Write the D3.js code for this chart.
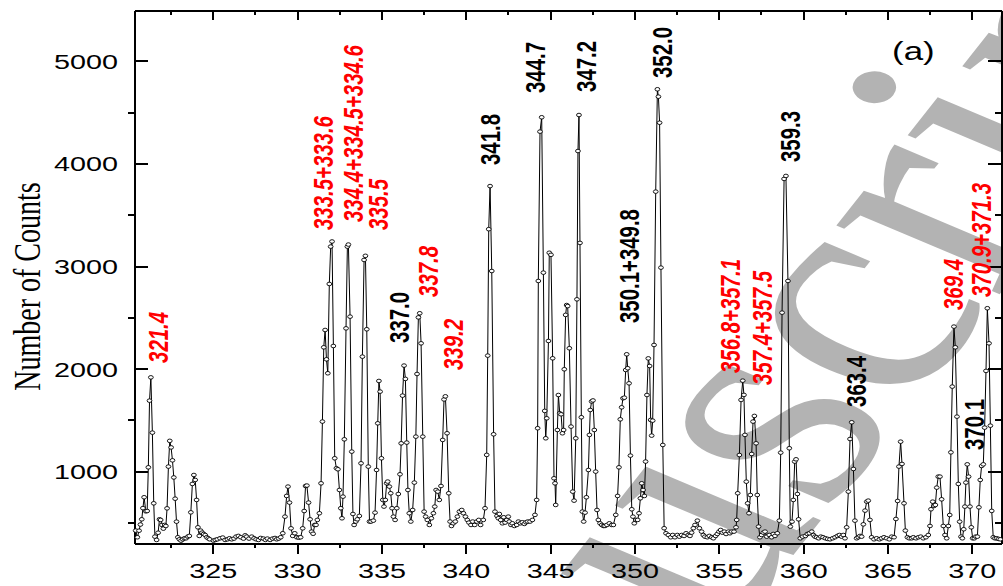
<!DOCTYPE html>
<html lang="en">

<head>
  <meta charset="utf-8">
  <title>Number of Counts spectrum</title>
  <style>
    body {
      margin: 0;
      background: #fff;
      overflow: hidden;
    }

    .axis path,
    .axis line {
      fill: none;
      stroke: #000;
      stroke-width: 2;
      shape-rendering: crispEdges;
    }

    .axis text {
      fill: #000;
    }

    .peak-label {
      font-family: "Liberation Sans", Arial, sans-serif;
      font-weight: bold;
    }
  </style>
</head>

<body>
  <div id="chart"></div>

<script src="https://d3js.org/d3.v7.min.js"></script>

<script>
  // spectrum: wavelength and counts
  const wavelength = [
    320.43, 320.53, 320.63, 320.71, 320.79, 320.86, 320.93, 321.03, 321.11, 321.18,
    321.25, 321.33, 321.42, 321.50, 321.57, 321.67, 321.76, 321.84, 321.91, 321.99,
    322.07, 322.15, 322.22, 322.29, 322.37, 322.45, 322.53, 322.61, 322.69, 322.77,
    322.85, 322.93, 323.02, 323.12, 323.22, 323.32, 323.42, 323.52, 323.61, 323.70,
    323.79, 323.88, 323.96, 324.04, 324.12, 324.20, 324.28, 324.37, 324.46, 324.55,
    324.64, 324.73, 324.82, 325.04, 325.15, 325.27, 325.43, 325.59, 325.73, 325.87,
    325.99, 326.12, 326.26, 326.38, 326.52, 326.66, 326.82, 326.92, 327.01, 327.15,
    327.31, 327.45, 327.57, 327.71, 327.84, 328.00, 328.12, 328.24, 328.40, 328.55,
    328.69, 328.79, 328.91, 329.03, 329.15, 329.28, 329.38, 329.46, 329.55, 329.64,
    329.74, 329.86, 329.98, 330.10, 330.21, 330.33, 330.42, 330.50, 330.58, 330.68,
    330.77, 330.86, 330.95, 331.04, 331.12, 331.20, 331.32, 331.42, 331.50, 331.58,
    331.66, 331.74, 331.82, 331.91, 331.99, 332.07, 332.15, 332.23, 332.33, 332.42,
    332.51, 332.59, 332.66, 332.72, 332.80, 332.90, 332.98, 333.04, 333.14, 333.24,
    333.31, 333.38, 333.48, 333.57, 333.69, 333.79, 333.87, 333.97, 334.05, 334.13,
    334.22, 334.29, 334.38, 334.52, 334.62, 334.71, 334.78, 334.85, 334.92, 335.00,
    335.08, 335.15, 335.23, 335.31, 335.37, 335.47, 335.55, 335.63, 335.71, 335.81,
    335.91, 336.00, 336.10, 336.17, 336.25, 336.34, 336.42, 336.50, 336.57, 336.65,
    336.74, 336.85, 336.95, 337.04, 337.11, 337.19, 337.27, 337.35, 337.45, 337.53,
    337.62, 337.72, 337.84, 337.96, 338.08, 338.16, 338.24, 338.34, 338.43, 338.53,
    338.63, 338.71, 338.79, 338.89, 338.99, 339.07, 339.15, 339.26, 339.38, 339.50,
    339.62, 339.76, 339.86, 339.98, 340.09, 340.19, 340.31, 340.41, 340.53, 340.65,
    340.77, 340.88, 341.04, 341.14, 341.24, 341.30, 341.36, 341.44, 341.54, 341.65,
    341.73, 341.85, 341.93, 341.99, 342.07, 342.17, 342.25, 342.33, 342.43, 342.52,
    342.58, 342.68, 342.76, 342.88, 343.02, 343.12, 343.24, 343.35, 343.47, 343.57,
    343.67, 343.81, 343.95, 344.10, 344.20, 344.26, 344.30, 344.40, 344.50, 344.60,
    344.68, 344.74, 344.80, 344.90, 344.95, 345.05, 345.15, 345.23, 345.29, 345.33,
    345.43, 345.49, 345.57, 345.65, 345.73, 345.80, 345.84, 345.92, 345.98, 346.04,
    346.14, 346.24, 346.34, 346.42, 346.52, 346.59, 346.65, 346.71, 346.77, 346.85,
    346.91, 346.99, 347.07, 347.15, 347.27, 347.33, 347.38, 347.46, 347.54, 347.62,
    347.70, 347.78, 347.86, 347.96, 348.06, 348.16, 348.25, 348.37, 348.51, 348.65,
    348.75, 348.89, 349.00, 349.08, 349.16, 349.24, 349.32, 349.40, 349.48, 349.54,
    349.60, 349.68, 349.76, 349.84, 349.91, 349.99, 350.09, 350.19, 350.27, 350.35,
    350.43, 350.51, 350.59, 350.66, 350.74, 350.82, 350.90, 350.96, 351.02, 351.08,
    351.16, 351.26, 351.36, 351.42, 351.49, 351.57, 351.68, 351.76, 351.87, 352.01,
    352.15, 352.27, 352.40, 352.54, 352.66, 352.80, 352.94, 353.06, 353.19, 353.29,
    353.39, 353.49, 353.59, 353.73, 353.85, 353.98, 354.08, 354.18, 354.32, 354.44,
    354.58, 354.68, 354.81, 354.91, 355.01, 355.11, 355.21, 355.33, 355.43, 355.57,
    355.66, 355.76, 355.90, 356.02, 356.06, 356.12, 356.22, 356.32, 356.42, 356.49,
    356.55, 356.63, 356.71, 356.79, 356.87, 356.95, 357.03, 357.11, 357.21, 357.28,
    357.36, 357.44, 357.54, 357.64, 357.74, 357.84, 357.99, 358.13, 358.23, 358.33,
    358.47, 358.59, 358.67, 358.75, 358.87, 358.98, 359.10, 359.18, 359.24, 359.34,
    359.42, 359.50, 359.58, 359.66, 359.73, 359.83, 359.97, 360.13, 360.25, 360.37,
    360.51, 360.61, 360.70, 360.80, 360.92, 361.05, 361.18, 361.32, 361.45, 361.59,
    361.75, 361.89, 362.03, 362.15, 362.28, 362.38, 362.48, 362.58, 362.68, 362.78,
    362.88, 362.98, 363.07, 363.17, 363.27, 363.37, 363.47, 363.57, 363.67, 363.77,
    363.86, 363.96, 364.06, 364.20, 364.36, 364.52, 364.65, 364.79, 364.95, 365.11,
    365.25, 365.39, 365.50, 365.60, 365.68, 365.78, 365.86, 365.98, 366.06, 366.18,
    366.29, 366.43, 366.53, 366.69, 366.83, 366.97, 367.12, 367.28, 367.42, 367.52,
    367.58, 367.68, 367.76, 367.84, 367.92, 368.01, 368.11, 368.21, 368.31, 368.41,
    368.51, 368.61, 368.69, 368.76, 368.84, 368.94, 369.02, 369.12, 369.20, 369.28,
    369.36, 369.44, 369.52, 369.59, 369.65, 369.73, 369.81, 369.89, 369.97, 370.05,
    370.15, 370.23, 370.33, 370.42, 370.50, 370.58, 370.68, 370.76, 370.84, 370.92,
    371.02, 371.10, 371.18, 371.27, 371.37, 371.47, 371.58, 371.69
  ];

  const counts = [
    421, 356, 420, 480, 531, 640, 746, 609, 612, 1038,
    1688, 1915, 1376, 687, 362, 330, 400, 531, 525, 476,
    440, 476, 466, 638, 1045, 1296, 1232, 1106, 939, 732,
    508, 356, 336, 323, 336, 346, 346, 362, 369, 599,
    876, 963, 915, 720, 453, 369, 421, 401, 388, 378,
    356, 346, 336, 323, 330, 336, 346, 353, 330, 336,
    346, 336, 343, 362, 369, 356, 343, 375, 362, 343,
    362, 346, 336, 330, 349, 343, 330, 343, 330, 343,
    349, 336, 343, 356, 395, 557, 759, 850, 694, 443,
    369, 395, 356, 352, 356, 443, 612, 856, 860, 694,
    531, 411, 390, 476, 476, 525, 590, 882, 1484, 2208,
    2377, 2091, 1955, 2826, 3190, 3240, 2221, 1126, 1029, 1019,
    817, 639, 541, 752, 1311, 2393, 3190, 3210, 2507, 1191,
    583, 476, 509, 531, 564, 1077, 2117, 3060, 3100, 2384,
    1045, 509, 509, 518, 596, 1012, 1467, 1880, 1776, 1126,
    720, 655, 720, 882, 899, 850, 785, 639, 557, 525,
    639, 778, 970, 1272, 1737, 2030, 1900, 1279, 817, 590,
    509, 622, 889, 1337, 1948, 2500, 2540, 2247, 1337, 606,
    557, 525, 476, 541, 590, 655, 817, 801, 720, 856,
    1305, 1700, 1730, 1370, 785, 509, 466, 492, 509, 557,
    606, 622, 590, 557, 525, 499, 476, 509, 476, 509,
    525, 476, 525, 639, 1159, 2127, 3360, 3780, 2952, 1360,
    606, 564, 541, 583, 525, 492, 551, 499, 525, 557,
    509, 476, 492, 466, 476, 509, 492, 502, 486, 502,
    509, 509, 525, 574, 720, 1419, 2855, 4311, 4451, 2936,
    1588, 1321, 1516, 2270, 3130, 3110, 2101, 931, 882, 671,
    1402, 1743, 1565, 1555, 1370, 1402, 1994, 2524, 2620, 2610,
    2199, 1435, 801, 713, 1321, 2676, 4122, 4473, 3226, 1526,
    606, 509, 596, 746, 1012, 1354, 1597, 1680, 1690, 1402,
    996, 622, 525, 492, 476, 466, 466, 476, 492, 476,
    476, 574, 759, 1038, 1506, 1623, 1711, 1717, 1987, 2140,
    2004, 1857, 1152, 629, 557, 492, 525, 525, 590, 736,
    882, 817, 759, 1094, 1743, 2100, 2026, 1500, 1347, 1493,
    2231, 3726, 4724, 4652, 4398, 2985, 1256, 444, 395, 378,
    356, 378, 356, 378, 362, 378, 369, 395, 378, 369,
    401, 444, 476, 518, 444, 411, 378, 362, 356, 369,
    356, 346, 369, 388, 411, 427, 401, 411, 388, 411,
    395, 411, 411, 453, 525, 785, 1158, 1695, 1883, 1744,
    1354, 898, 687, 590, 768, 1168, 1484, 1539, 1272, 768,
    460, 356, 378, 401, 411, 362, 378, 356, 388, 369,
    395, 518, 1181, 2546, 3850, 3879, 2855, 1224, 460, 508,
    720, 1094, 1116, 778, 531, 346, 362, 369, 388, 395,
    411, 378, 362, 356, 346, 362, 356, 346, 340, 336,
    346, 356, 369, 378, 362, 378, 346, 453, 801, 1314,
    1477, 1022, 518, 346, 356, 369, 362, 482, 616, 703,
    713, 525, 356, 336, 346, 336, 346, 356, 346, 336,
    362, 356, 534, 710, 1045, 1288, 1071, 687, 421, 356,
    346, 346, 356, 346, 356, 362, 346, 356, 378, 466,
    629, 703, 661, 671, 840, 947, 947, 726, 466, 378,
    346, 466, 573, 1184, 1825, 2410, 2208, 1532, 876, 508,
    362, 346, 434, 655, 889, 1067, 947, 655, 453, 346,
    346, 362, 362, 648, 915, 1051, 1067, 1425, 1978, 2589,
    2247, 1444, 613, 356, 346, 346, 340, 336
  ];

  // peak annotations: text, wavelength under the text, count where the text starts
  const peakNames = ["321.4", "333.5+333.6", "334.4+334.5+334.6", "335.5", "337.0",
    "337.8", "339.2", "341.8", "344.7", "347.2", "350.1+349.8", "352.0",
    "356.8+357.1", "357.4+357.5", "359.3", "363.4", "369.4", "370.1", "370.9+371.3"];
  const peakAt = [321.76, 331.54, 333.32, 334.80, 336.04, 337.76, 339.24, 341.44, 344.11,
    347.13, 349.68, 351.64, 355.67, 357.57, 359.23, 363.13, 368.88, 370.13, 370.54];
  const peakLabelFrom = [2056, 3352, 3430, 3352, 2251, 2699, 1987, 3986, 4688, 4698,
    2445, 4834, 1958, 1841, 4015, 1627, 2572, 1207, 2699];
  // 1 = red (italic) labels, 0 = black labels
  const peakGroup = [1, 1, 1, 1, 0, 1, 1, 0, 0, 0, 0, 0, 1, 1, 0, 0, 1, 0, 1];

  const xTicks = [325, 330, 335, 340, 345, 350, 355, 360, 365, 370];
  const xMinorTicks = [322.5, 327.5, 332.5, 337.5, 342.5, 347.5, 352.5, 357.5, 362.5, 367.5];
  const yTicks = [1000, 2000, 3000, 4000, 5000];
  const yMinorTicks = [500, 1500, 2500, 3500, 4500];

  const chartWidth = 1003,
    chartHeight = 586,
    plotLeft = 134,
    plotRight = 1001,
    plotTop = 10,
    plotBottom = 543;
  const fx = 1.37; // the figure is stretched sideways, so is its text

  const svg = d3.select("#chart")
    .append("svg")
    .attr("width", chartWidth)
    .attr("height", chartHeight);

  const xScale = d3.scaleLinear().domain([320.33, 371.73]).range([plotLeft, plotRight]);
  const yScale = d3.scaleLinear().domain([300, 5497]).range([plotBottom, plotTop]);

  // watermark behind everything
  svg.append("text")
    .attr("transform", `translate(345,1122) scale(${fx},1) rotate(-60)`)
    .attr("font-family", "Liberation Serif, Times New Roman, serif")
    .attr("font-size", 300)
    .attr("fill", "#b3b3b3")
    .text("Manuscript");

  // axes
  const noDomain = g => g.select(".domain").remove();

  svg.append("g").attr("class", "axis")
    .attr("transform", `translate(0,${plotBottom})`)
    .call(d3.axisBottom(xScale).tickValues(xMinorTicks).tickSize(5).tickSizeOuter(0).tickFormat(""))
    .call(noDomain);
  const xAxis = svg.append("g").attr("class", "axis")
    .attr("transform", `translate(0,${plotBottom})`)
    .call(d3.axisBottom(xScale).tickValues(xTicks).tickSize(11).tickSizeOuter(0).tickPadding(9))
    .attr("font-family", "Liberation Sans, Arial, sans-serif")
    .attr("font-size", 21);
  xAxis.selectAll("text").attr("transform", `scale(${fx},1)`);

  svg.append("g").attr("class", "axis")
    .attr("transform", `translate(0,${plotTop})`)
    .call(d3.axisTop(xScale).tickValues(xMinorTicks).tickSize(-5).tickSizeOuter(0).tickFormat(""))
    .call(noDomain);
  svg.append("g").attr("class", "axis")
    .attr("transform", `translate(0,${plotTop})`)
    .call(d3.axisTop(xScale).tickValues(xTicks).tickSize(-10).tickSizeOuter(0).tickFormat(""));

  svg.append("g").attr("class", "axis")
    .attr("transform", `translate(${plotLeft},0)`)
    .call(d3.axisLeft(yScale).tickValues(yMinorTicks).tickSize(6).tickSizeOuter(0).tickFormat(""))
    .call(noDomain);
  const yAxis = svg.append("g").attr("class", "axis")
    .attr("transform", `translate(${plotLeft},0)`)
    .call(d3.axisLeft(yScale).tickValues(yTicks).tickSize(-14).tickSizeOuter(0).tickFormat(d3.format("d")))
    .attr("font-family", "Liberation Sans, Arial, sans-serif")
    .attr("font-size", 21);
  yAxis.selectAll("text")
    .attr("x", -16 / fx)
    .attr("dy", "0.35em")
    .attr("transform", `scale(${fx},1)`);

  svg.append("g").attr("class", "axis")
    .attr("transform", `translate(${plotRight},0)`)
    .call(d3.axisRight(yScale).tickValues(yMinorTicks).tickSize(-6).tickSizeOuter(0).tickFormat(""))
    .call(noDomain);
  svg.append("g").attr("class", "axis")
    .attr("transform", `translate(${plotRight},0)`)
    .call(d3.axisRight(yScale).tickValues(yTicks).tickSize(-13).tickSizeOuter(0).tickFormat(""));

  // y title
  svg.append("text")
    .attr("transform", `translate(40,${(plotTop + plotBottom) / 2 + 10}) scale(${fx},1) rotate(-90)`)
    .attr("text-anchor", "middle")
    .attr("font-family", "Liberation Serif, Times New Roman, serif")
    .attr("font-size", 28)
    .text("Number of Counts");

  // panel tag
  svg.append("text")
    .attr("transform", `translate(892,60) scale(${fx},1)`)
    .attr("font-family", "Liberation Sans, Arial, sans-serif")
    .attr("font-size", 25.5)
    .text("(a)");

  // spectrum
  const pts = wavelength.map((w, i) => [w, counts[i]]);

  svg.append("path")
    .datum(pts)
    .attr("fill", "none")
    .attr("stroke", "#000")
    .attr("stroke-width", 1)
    .attr("d", d3.line().x(d => xScale(d[0])).y(d => yScale(d[1])));

  svg.append("g")
    .selectAll("ellipse")
    .data(pts)
    .join("ellipse")
    .attr("cx", d => xScale(d[0]))
    .attr("cy", d => yScale(d[1]))
    .attr("rx", 2.4)
    .attr("ry", 1.8)
    .attr("fill", "#fff")
    .attr("stroke", "#000")
    .attr("stroke-width", 0.9);

  // peak labels
  svg.append("g")
    .selectAll("text")
    .data(peakNames)
    .join("text")
    .attr("class", "peak-label")
    .attr("transform", (d, i) => `translate(${xScale(peakAt[i]) + 10},${yScale(peakLabelFrom[i])}) scale(${fx},1) rotate(-90)`)
    .attr("font-size", 20.4)
    .attr("font-style", (d, i) => peakGroup[i] ? "italic" : "normal")
    .attr("fill", (d, i) => peakGroup[i] ? "#ff0000" : "#000")
    .text(d => d);
</script>
</body>

</html>
